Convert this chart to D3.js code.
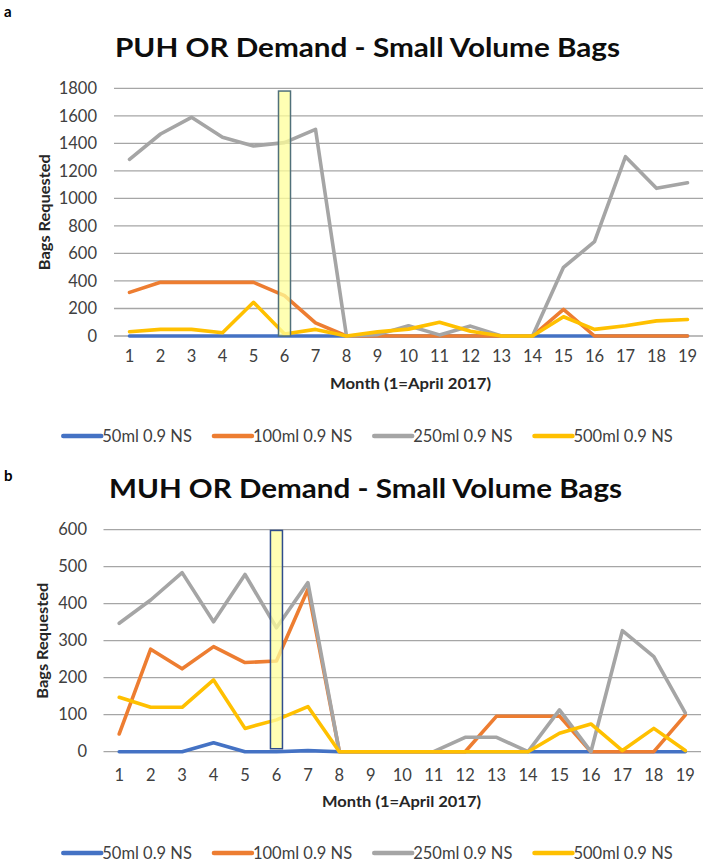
<!DOCTYPE html>
<html>
<head>
<meta charset="utf-8">
<script src="https://cdn.jsdelivr.net/npm/d3@7"></script>
<style>
  body { margin: 0; background: #fff; }
  svg { display: block; font-family: Lato, "Open Sans", sans-serif; }
</style>
</head>
<body>
<svg id="chart" width="708" height="865"></svg>
<script>
// months on the x axis (1 = April 2017)
var months = [1, 2, 3, 4, 5, 6, 7, 8, 9, 10, 11, 12, 13, 14, 15, 16, 17, 18, 19]
var seriesNames = ['50ml 0.9 NS', '100ml 0.9 NS', '250ml 0.9 NS', '500ml 0.9 NS']
var seriesColors = ['#4472c4', '#ed7d31', '#a5a5a5', '#ffc000']

// PUH (panel a)
var puh50 = [0, 0, 0, 0, 0, 0, 0, 0, 0, 0, 0, 0, 0, 0, 0, 0, 0, 0, 0]
var puh100 = [317, 390, 390, 390, 390, 293, 95, 0, 0, 0, 0, 0, 0, 0, 194, 0, 0, 0, 0]
var puh250 = [1284, 1468, 1589, 1444, 1381, 1405, 1502, 0, 10, 75, 8, 72, 0, 0, 499, 685, 1303, 1073, 1114]
var puh500 = [31, 48, 48, 24, 245, 15, 48, 0, 30, 50, 100, 35, 0, 0, 140, 48, 75, 110, 120]
var puhTicks = [0, 200, 400, 600, 800, 1000, 1200, 1400, 1600, 1800]

// MUH (panel b)
var muh50 = [0, 0, 0, 24, 0, 0, 3, 0, 0, 0, 0, 0, 0, 0, 0, 0, 0, 0, 0]
var muh100 = [48, 277, 224, 284, 241, 245, 439, 0, 0, 0, 0, 0, 96, 96, 96, 0, 0, 0, 99]
var muh250 = [347, 410, 484, 351, 479, 335, 457, 0, 0, 0, 0, 39, 39, 0, 113, 0, 327, 257, 105]
var muh500 = [147, 120, 120, 194, 63, 86, 122, 0, 0, 0, 0, 0, 0, 0, 50, 75, 3, 63, 3]
var muhTicks = [0, 100, 200, 300, 400, 500, 600]

// the highlighted month (yellow box) and its extent
var highlightMonth = 6
var puhHighlight = [0, 1780]
var muhHighlight = [8, 598]

var svg = d3.select('#chart')
svg.append('rect').attr('width', 708).attr('height', 865).attr('fill', '#fff')

var panels = [
  { letter: 'a', letterY: 17, title: 'PUH OR Demand - Small Volume Bags', titleX: [115, 620], titleY: 57,
    series: [puh50, puh100, puh250, puh500], ticks: puhTicks, hl: puhHighlight, hlStroke: '#50707a',
    x: [114, 703], y: [336, 88.3], ylabX: 97, yTitleX: 45, tickY: 362, axisTitleX: [330, 491], axisTitleY: 389, legendY: 436 },
  { letter: 'b', letterY: 481, title: 'MUH OR Demand - Small Volume Bags', titleX: [109, 622], titleY: 498,
    series: [muh50, muh100, muh250, muh500], ticks: muhTicks, hl: muhHighlight, hlStroke: '#2f4d8c',
    x: [103.5, 701], y: [751.7, 529.7], ylabX: 87, yTitleX: 43, tickY: 781, axisTitleX: [322, 481], axisTitleY: 807, legendY: 853 }
]

panels.forEach(drawPanel)

function drawPanel (p) {
  var g = svg.append('g')
  var yMax = p.ticks[p.ticks.length - 1]

  var x = d3.scaleBand().domain(months).range(p.x)
  var y = d3.scaleLinear().domain([0, yMax]).range(p.y)
  var cx = function (m) { return x(m) + x.bandwidth() / 2 }

  g.append('text').attr('x', 4).attr('y', p.letterY)
    .attr('font-size', 15).attr('font-weight', 'bold').text(p.letter)

  g.append('text')
    .attr('x', p.titleX[0]).attr('y', p.titleY)
    .attr('font-size', 26).attr('font-weight', 'bold').attr('fill', '#0d0d0d')
    .attr('textLength', p.titleX[1] - p.titleX[0]).attr('lengthAdjust', 'spacingAndGlyphs')
    .text(p.title)

  // gridlines
  g.append('g').selectAll('line').data(p.ticks).enter().append('line')
    .attr('x1', p.x[0]).attr('x2', p.x[1])
    .attr('y1', function (d) { return y(d) }).attr('y2', function (d) { return y(d) })
    .attr('stroke', '#a6a6a6').attr('stroke-width', 1.3)

  // y axis labels
  var yAxis = d3.axisLeft(y).tickValues(p.ticks).tickFormat(d3.format('d')).tickSize(0).tickPadding(0)
  g.append('g').attr('transform', 'translate(' + p.ylabX + ',0)').call(yAxis)
    .call(function (a) { a.select('.domain').remove() })
    .selectAll('text').attr('font-size', 16.5).attr('fill', '#404040')
    .attr('font-family', 'Lato, sans-serif')

  // x axis labels
  var xAxis = d3.axisBottom(x).tickSize(0).tickPadding(0)
  var xa = g.append('g').attr('transform', 'translate(0,' + (p.tickY - 12) + ')').call(xAxis)
  xa.select('.domain').remove()
  xa.selectAll('text').attr('font-size', 16.5).attr('fill', '#404040')
    .attr('font-family', 'Lato, sans-serif')

  g.append('text').attr('x', p.axisTitleX[0]).attr('y', p.axisTitleY)
    .attr('font-size', 16).attr('font-weight', 'bold').attr('fill', '#262626')
    .attr('textLength', p.axisTitleX[1] - p.axisTitleX[0]).attr('lengthAdjust', 'spacingAndGlyphs')
    .text('Month (1=April 2017)')

  g.append('text')
    .attr('transform', 'translate(' + (p.yTitleX + 5) + ',' + y(yMax / 2) + ') rotate(-90)')
    .attr('text-anchor', 'middle').attr('font-size', 16).attr('font-weight', 'bold').attr('fill', '#262626')
    .attr('textLength', 116).attr('lengthAdjust', 'spacingAndGlyphs')
    .text('Bags Requested')

  // series lines
  var line = d3.line()
    .x(function (d, i) { return cx(months[i]) })
    .y(function (d) { return y(d) })

  g.append('g').selectAll('path').data(p.series).enter().append('path')
    .attr('d', line)
    .attr('fill', 'none')
    .attr('stroke', function (d, i) { return seriesColors[i] })
    .attr('stroke-width', 3.6)
    .attr('stroke-linejoin', 'round')
    .attr('stroke-linecap', 'round')

  // highlighted month box
  g.append('rect')
    .attr('x', cx(highlightMonth) - 6).attr('width', 12)
    .attr('y', y(p.hl[1])).attr('height', y(p.hl[0]) - y(p.hl[1]))
    .attr('fill', '#ffff99').attr('fill-opacity', 0.75)
    .attr('stroke', p.hlStroke).attr('stroke-width', 1.5)

  // legend
  var lg = g.append('g')
  var items = lg.selectAll('g').data(seriesNames).enter().append('g')
  items.append('line').attr('x1', 0).attr('x2', 38).attr('y1', 0).attr('y2', 0)
    .attr('stroke', function (d, i) { return seriesColors[i] })
    .attr('stroke-width', 4.5).attr('stroke-linecap', 'round')
  items.append('text').attr('x', 39).attr('y', 5.5)
    .attr('font-size', 16.5).attr('fill', '#404040')
    .text(function (d) { return d })
  var pos = 0
  items.each(function () {
    var w = this.getBBox().width
    d3.select(this).attr('transform', 'translate(' + pos + ',0)')
    pos += w + 22
  })
  var total = pos - 22
  lg.attr('transform', 'translate(' + (368 - total / 2) + ',' + p.legendY + ')')
}
</script>
</body>
</html>
